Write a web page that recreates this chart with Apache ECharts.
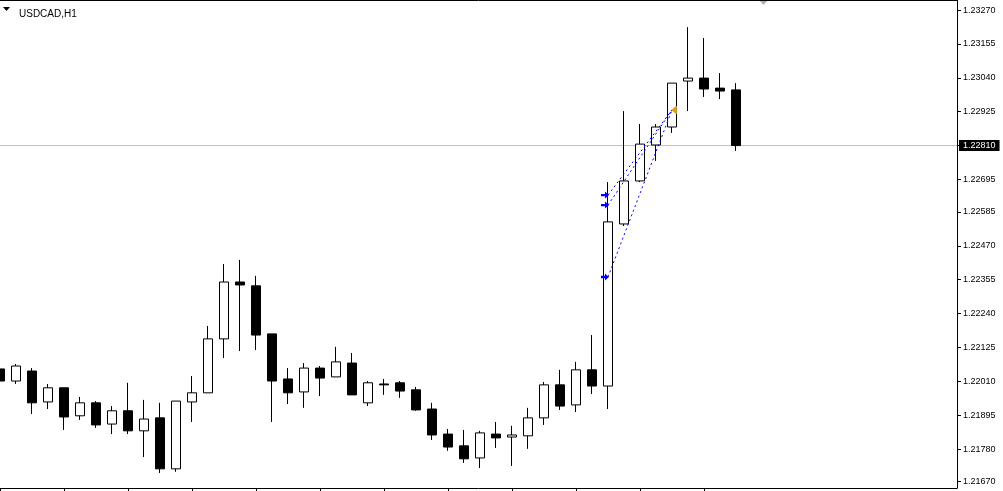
<!DOCTYPE html>
<html>
<head>
<meta charset="utf-8">
<script src="https://cdn.jsdelivr.net/npm/echarts@6/dist/echarts.min.js"></script>
<style>
html,body{margin:0;padding:0;background:#fff;}
#chart{width:1003px;height:491px;}
</style>
</head>
<body>
<div id="chart"></div>
<script>
// ---- data (USDCAD H1), bars left to right ----
const symbolTitle = "USDCAD,H1";
const opens  = [1.22052,1.22011,1.22045,1.21940,1.21988,1.21893,1.21937,1.21865,1.21910,1.21842,
                1.21886,1.21713,1.21940,1.21971,1.22154,1.22347,1.22334,1.22171,1.22018,1.21974,
                1.22055,1.22025,1.22072,1.21937,1.22001,1.22005,1.21981,1.21916,1.21831,1.21791,
                1.21750,1.21831,1.21821,1.21825,1.21886,1.21998,1.21930,1.22049,1.21994,1.22544,
                1.22690,1.22812,1.22873,1.23029,1.23039,1.23005,1.22999];
const closes = [1.22011,1.22062,1.21937,1.21988,1.21889,1.21937,1.21862,1.21910,1.21842,1.21882,
                1.21713,1.21943,1.21971,1.22154,1.22347,1.22337,1.22167,1.22011,1.21971,1.22055,
                1.22021,1.22076,1.21964,1.22005,1.21998,1.21977,1.21913,1.21828,1.21787,1.21747,
                1.21835,1.21818,1.21828,1.21886,1.21998,1.21926,1.22049,1.21994,1.22551,1.22690,
                1.22815,1.22873,1.23022,1.23039,1.23002,1.22995,1.22810];
const lows   = [1.21994,1.22001,1.21899,1.21916,1.21845,1.21879,1.21852,1.21831,1.21831,1.21753,
                1.21699,1.21703,1.21872,1.21971,1.22089,1.22113,1.22116,1.21872,1.21933,1.21920,
                1.21960,1.22025,1.21964,1.21926,1.21964,1.21954,1.21910,1.21811,1.21774,1.21733,
                1.21716,1.21784,1.21723,1.21781,1.21862,1.21913,1.21906,1.21967,1.21916,1.22537,
                1.22686,1.22758,1.22853,1.22927,1.22975,1.22968,1.22792];
const highs  = [1.22086,1.22069,1.22055,1.22001,1.21988,1.21957,1.21943,1.21926,1.22005,1.21947,
                1.21937,1.21943,1.22028,1.22198,1.22408,1.22422,1.22368,1.22171,1.22055,1.22072,
                1.22062,1.22127,1.22106,1.22011,1.22018,1.22011,1.21991,1.21937,1.21848,1.21845,
                1.21842,1.21872,1.21859,1.21920,1.22008,1.22049,1.22076,1.22167,1.22686,1.22927,
                1.22883,1.22883,1.23022,1.23212,1.23175,1.23056,1.23022];

// trades: entry bar / prices, exit bar / price
const tradeEntryBar = 38;
const tradeEntryPrices = [1.22642, 1.22608, 1.22364];
const tradeExitBar = 42;
const tradeExitPrice = 1.22931;

const currentPrice = 1.22810;
const yTickValues = [1.23270,1.23155,1.23040,1.22925,1.22810,1.22695,1.22585,1.22470,
                     1.22355,1.22240,1.22125,1.22010,1.21895,1.21780,1.21670];
const xTickValues = [0,4,8,12,16,20,24,28,32,36,40,44];

// ---- chart ----
const chart = echarts.init(document.getElementById('chart'), null, {renderer:'canvas'});
const FONT = '"Liberation Sans", Arial, sans-serif';
const X_MAX = 957 / 16;

const candleData = opens.map((o, i) => [i, o, closes[i], lows[i], highs[i]]);

const tradeSeries = tradeEntryPrices.map(p => ({
  type: 'line',
  z: 5,
  silent: true,
  animation: false,
  lineStyle: {color: '#0000ff', width: 1, type: [2, 3]},
  data: [
    {value: [tradeEntryBar, p], symbol: 'path://M0,3 L5,3 L5,0 L10,4.5 L5,9 L5,6 L0,6 Z',
     symbolSize: [8, 7], symbolOffset: [-3, 0], itemStyle: {color: '#0000ff'}},
    {value: [tradeExitBar, tradeExitPrice], symbol: 'triangle', symbolRotate: 90,
     symbolSize: [8, 5], symbolOffset: [2, 0], itemStyle: {color: '#e0a020'}}
  ],
  showSymbol: true
}));

const option = {
  animation: false,
  backgroundColor: '#ffffff',
  title: {
    text: symbolTitle,
    left: 14, top: 3,
    textStyle: {fontFamily: FONT, fontSize: 10, fontWeight: 'normal', color: '#000', lineHeight: 12}
  },
  graphic: [
    {type: 'polygon', shape: {points: [[3, 7], [10, 7], [6.5, 11]]}, style: {fill: '#000'}},
    {type: 'polygon', shape: {points: [[759, 0], [768, 0], [763.5, 5]]}, style: {fill: '#b0b0b0'}}
  ],
  grid: {left: 0, right: 46, top: 0, bottom: 3, containLabel: false},
  xAxis: [{
    type: 'value', min: 0, max: X_MAX, position: 'bottom',
    axisLine: {show: true, onZero: false, lineStyle: {color: '#000', width: 1}},
    axisTick: {show: true, length: 4, customValues: xTickValues, lineStyle: {color: '#000'}},
    axisLabel: {show: false},
    splitLine: {show: false}
  }, {
    type: 'value', min: 0, max: X_MAX, position: 'top',
    axisLine: {show: true, onZero: false, lineStyle: {color: '#000', width: 1}},
    axisTick: {show: false}, axisLabel: {show: false}, splitLine: {show: false}
  }],
  yAxis: {
    type: 'value', position: 'right', min: 1.21648, max: 1.23304, scale: true,
    axisLine: {show: true, onZero: false, lineStyle: {color: '#000', width: 1}},
    axisTick: {show: true, length: 4, customValues: yTickValues, lineStyle: {color: '#000'}},
    axisLabel: {
      show: true, margin: 6,
      customValues: yTickValues.filter(v => v !== currentPrice),
      formatter: v => v.toFixed(5),
      fontFamily: FONT, fontSize: 9, color: '#000'
    },
    splitLine: {show: false}
  },
  series: [
    {
      type: 'line', z: 1, silent: true, symbol: 'none',
      lineStyle: {color: '#c0c0c0', width: 1},
      data: [[0, currentPrice], [X_MAX, currentPrice]],
      endLabel: {
        show: true, distance: 2,
        formatter: () => currentPrice.toFixed(5),
        backgroundColor: '#000', color: '#fff', padding: [1, 4, 1, 4],
        fontFamily: FONT, fontSize: 9
      }
    },
    {
      type: 'candlestick',
      z: 3,
      barWidth: 9,
      encode: {x: 0, y: [1, 2, 3, 4]},
      itemStyle: {color: '#ffffff', color0: '#000000', borderColor: '#000000', borderColor0: '#000000', borderWidth: 1},
      data: candleData
    },
    ...tradeSeries
  ]
};
chart.setOption(option);
</script>
</body>
</html>
